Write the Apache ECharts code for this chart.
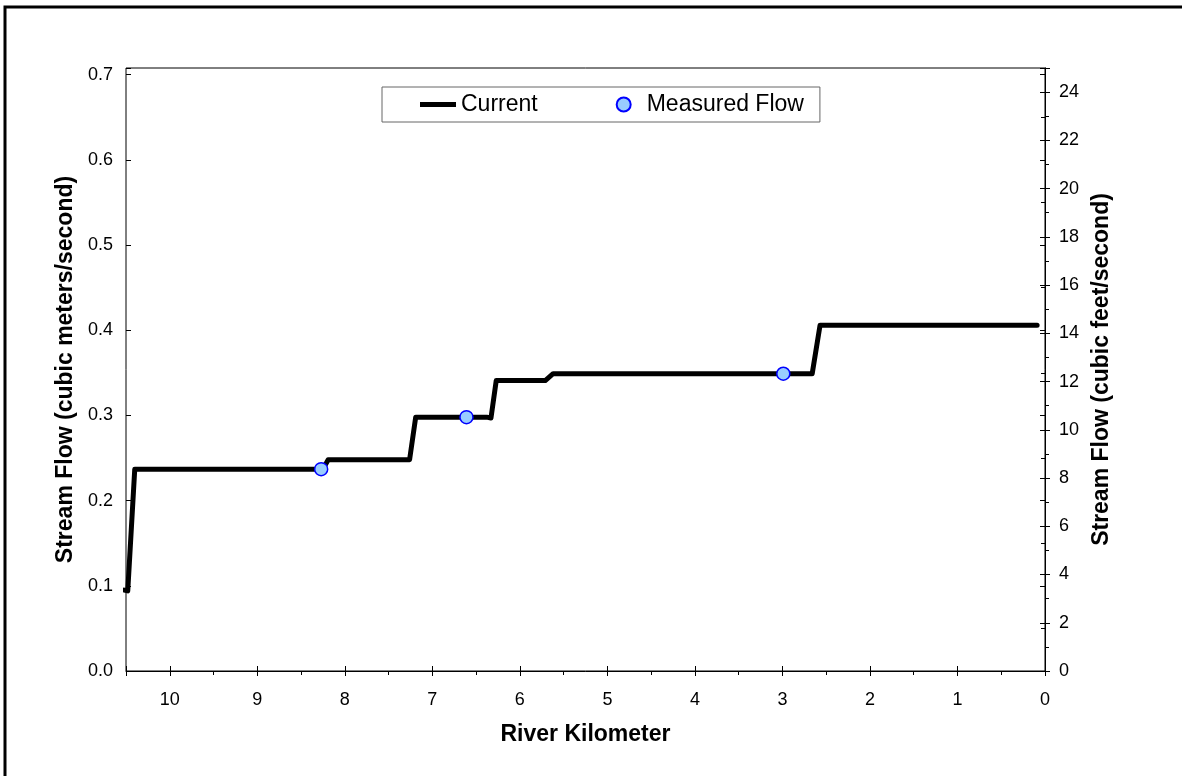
<!DOCTYPE html>
<html lang="en">
<head>
    <meta charset="UTF-8">
    <title>Stream Flow</title>
    <style>
        html, body { margin: 0; padding: 0; background: #fff; }
        #main { width: 1182px; height: 776px; }
    </style>
</head>
<body>
    <div id="main"></div>
    <script src="https://cdn.jsdelivr.net/npm/echarts@6/dist/echarts.min.js"></script>
    <script>
        // simulated flow, river km vs m3/s
        var currentKm   = [10.52, 10.48, 10.40, 8.25, 8.19, 7.26, 7.19, 6.38, 6.33, 6.27, 5.71, 5.62, 2.66, 2.57, 0.09];
        var currentFlow = [0.095, 0.094, 0.237, 0.237, 0.248, 0.248, 0.298, 0.298, 0.297, 0.341, 0.341, 0.349, 0.349, 0.406, 0.406];
        // measured points
        var measuredKm   = [8.27, 6.61, 2.99];
        var measuredFlow = [0.237, 0.298, 0.349];

        var leftMax = 25 / 35.3147;   // right axis tops out at 25 cfs
        var font = 'Arial, "Liberation Sans", sans-serif';

        var chart = echarts.init(document.getElementById('main'));

        var lineData = currentKm.map(function (k, i) { return [k, currentFlow[i]]; });
        var pointData = measuredKm.map(function (k, i) { return [k, measuredFlow[i]]; });

        var titleStyle = { fontSize: 23, fontWeight: 'bold', color: '#000', fontFamily: font };

        var option = {
            animation: false,
            backgroundColor: '#fff',
            textStyle: { fontFamily: font },
            graphic: [{
                type: 'rect',
                shape: { x: 5, y: 7, width: 1200, height: 800 },
                style: { fill: 'none', stroke: '#000', lineWidth: 3 },
                silent: true
            }],
            grid: {
                left: 126, right: 137, top: 68, bottom: 105,
                show: true, borderColor: '#000', borderWidth: 1
            },
            legend: {
                left: 382, top: 87,
                data: [
                    { name: 'Current', icon: 'path://M0,0 L36,0 L36,5 L0,5 Z' },
                    { name: 'Measured Flow', icon: 'circle' }
                ],
                borderColor: '#666', borderWidth: 1,
                padding: [6, 16, 6, 38],
                itemGap: 78, itemWidth: 36, itemHeight: 14,
                textStyle: { fontSize: 23, color: '#000', fontFamily: font }
            },
            xAxis: [{
                type: 'value', inverse: true, min: 0, max: 10.5, interval: 1,
                name: 'River Kilometer', nameLocation: 'middle', nameGap: 52,
                nameTextStyle: titleStyle,
                axisLine: { lineStyle: { color: '#000', width: 1 } },
                axisTick: { length: 5, lineStyle: { color: '#000' } },
                minorTick: { show: true, splitNumber: 2, length: 4, lineStyle: { color: '#000' } },
                axisLabel: {
                    fontSize: 18, color: '#000', margin: 20,
                    formatter: function (v) { return Number.isInteger(v) ? String(v) : ''; }
                },
                splitLine: { show: false }
            }, {
                type: 'value', inverse: true, min: 0, max: 10.5, interval: 1, position: 'bottom',
                axisLine: { show: false },
                axisTick: { inside: true, length: 5, lineStyle: { color: '#000' } },
                axisLabel: { show: false },
                splitLine: { show: false }
            }],
            yAxis: [{
                type: 'value', min: 0, max: leftMax, interval: 0.1, position: 'left',
                name: 'Stream Flow (cubic meters/second)', nameLocation: 'middle', nameGap: 44,
                nameTextStyle: titleStyle,
                axisLine: { show: true, lineStyle: { color: '#000', width: 1 } },
                axisTick: { show: true, length: 5, lineStyle: { color: '#000' } },
                minorTick: { show: true, splitNumber: 2, length: 4, lineStyle: { color: '#000' } },
                axisLabel: {
                    fontSize: 18, color: '#000', margin: 13,
                    formatter: function (v) {
                        return Math.abs(v * 10 - Math.round(v * 10)) < 1e-6 ? v.toFixed(1) : '';
                    }
                },
                splitLine: { show: false }
            }, {
                type: 'value', min: 0, max: 25, interval: 2, position: 'right',
                name: 'Stream Flow (cubic feet/second)', nameLocation: 'middle', nameGap: 44,
                nameTextStyle: titleStyle,
                axisLine: { show: true, lineStyle: { color: '#000', width: 1 } },
                axisTick: { show: true, length: 5, lineStyle: { color: '#000' } },
                minorTick: { show: true, splitNumber: 2, length: 4, lineStyle: { color: '#000' } },
                axisLabel: {
                    fontSize: 18, color: '#000', margin: 14,
                    formatter: function (v) { return v % 2 === 0 ? String(v) : ''; }
                },
                splitLine: { show: false }
            }, {
                type: 'value', min: 0, max: leftMax, interval: 0.1, position: 'left',
                axisLine: { show: false },
                axisTick: { show: true, inside: true, length: 5, lineStyle: { color: '#000' } },
                axisLabel: { show: false },
                splitLine: { show: false }
            }, {
                type: 'value', min: 0, max: 25, interval: 2, position: 'right',
                axisLine: { show: false },
                axisTick: { show: true, inside: true, length: 5, lineStyle: { color: '#000' } },
                axisLabel: { show: false },
                splitLine: { show: false }
            }],
            series: [{
                name: 'Current',
                type: 'line',
                xAxisIndex: 0, yAxisIndex: 0,
                data: lineData,
                symbol: 'none',
                clip: true,
                lineStyle: { color: '#000', width: 5, cap: 'round', join: 'round' },
                itemStyle: { color: '#000' },
                z: 2
            }, {
                name: 'Measured Flow',
                type: 'scatter',
                xAxisIndex: 0, yAxisIndex: 0,
                data: pointData,
                symbol: 'circle',
                symbolSize: 13,
                itemStyle: { color: '#99CCFF', borderColor: '#0000FF', borderWidth: 1.5, opacity: 1 },
                z: 3
            }]
        };

        chart.setOption(option);
    </script>
</body>
</html>
